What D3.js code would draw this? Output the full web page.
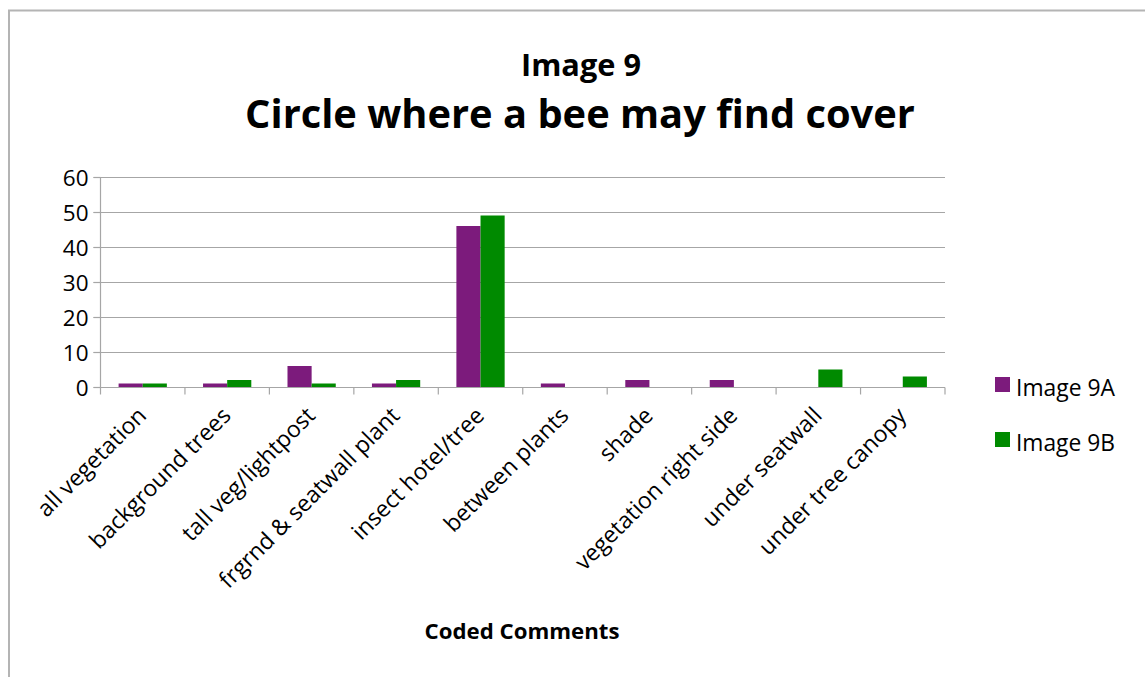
<!DOCTYPE html>
<html>
<head>
<meta charset="utf-8">
<script src="https://cdn.jsdelivr.net/npm/d3@7"></script>
<style>
  html, body { margin: 0; padding: 0; background: #fff; }
  svg { display: block; font-family: "Open Sans", "Liberation Sans", sans-serif; }
</style>
</head>
<body>
<svg id="chart" width="1145" height="677"></svg>
<script>
// Coded comments for Image 9: where a bee may find cover
const categories = [
  "all vegetation", "background trees", "tall veg/lightpost",
  "frgrnd & seatwall plant", "insect hotel/tree", "between plants",
  "shade", "vegetation right side", "under seatwall", "under tree canopy"
];
const seriesNames = ["Image 9A", "Image 9B"];
const image9A = [1, 1, 6, 1, 46, 1, 2, 2, 0, 0];
const image9B = [1, 2, 1, 2, 49, 0, 0, 0, 5, 3];
const yTicks = [0, 10, 20, 30, 40, 50, 60];
const colors = ["#7c1b7c", "#008a00"];

const svg = d3.select("#chart");

// Outer chart frame
svg.append("path")
  .attr("d", "M9,690 L9,10.5 L1160,10.5")
  .attr("fill", "none")
  .attr("stroke", "#b4b4b4")
  .attr("stroke-width", 2);

const plot = { left: 100.5, right: 945, top: 177, bottom: 387 };

const x = d3.scaleBand()
  .domain(categories)
  .range([plot.left, plot.right])
  .paddingInner(0)
  .paddingOuter(0);

const y = d3.scaleLinear().domain([0, 60]).range([plot.bottom, plot.top]);

// Horizontal gridlines
svg.append("g")
  .selectAll("line")
  .data(yTicks.filter(t => t > 0))
  .join("line")
  .attr("x1", plot.left - 7).attr("x2", plot.right)
  .attr("y1", d => Math.round(y(d)) + 0.5)
  .attr("y2", d => Math.round(y(d)) + 0.5)
  .attr("stroke", "#a6a6a6")
  .attr("stroke-width", 1.2);

// Bars
const bw = x.bandwidth() / 3.5;
const inner = d3.scaleBand().domain([0, 1]).range([0, 2 * bw]);
const rows = categories.map((c, i) => ({ c, vals: [image9A[i], image9B[i]] }));

svg.append("g")
  .selectAll("g")
  .data(rows)
  .join("g")
  .attr("transform", d => `translate(${x(d.c) + bw * 0.75},0)`)
  .selectAll("rect")
  .data(d => d.vals.map((v, k) => ({ v, k })))
  .join("rect")
  .attr("x", d => inner(d.k))
  .attr("width", inner.bandwidth())
  .attr("y", d => y(d.v))
  .attr("height", d => y(0) - y(d.v))
  .attr("fill", d => colors[d.k]);

// Y axis
const yAxis = d3.axisLeft(y).tickValues(yTicks).tickSize(7).tickPadding(5);
const gy = svg.append("g")
  .attr("transform", `translate(${plot.left},0)`)
  .call(yAxis);
gy.select(".domain").attr("stroke", "#a6a6a6").attr("stroke-width", 1.2)
  .attr("d", `M0,${plot.top}V${plot.bottom}`);
gy.selectAll(".tick line").attr("stroke", "#a6a6a6").attr("stroke-width", 1.2);
gy.selectAll(".tick text")
  .attr("font-family", "Open Sans, sans-serif")
  .attr("font-size", 22.5)
  .attr("dy", "0.36em")
  .attr("fill", "#000");

// X axis
const xAxis = d3.axisBottom(x).tickSize(0).tickFormat("");
const gx = svg.append("g")
  .attr("transform", `translate(0,${Math.round(y(0)) + 0.5})`)
  .call(xAxis);
gx.select(".domain").attr("stroke", "#a6a6a6").attr("stroke-width", 1.2)
  .attr("d", `M${plot.left - 7},0H${plot.right}`);
gx.selectAll(".tick").remove();

// Category boundary ticks
const bounds = categories.map(c => x(c)).concat([plot.right]);
gx.selectAll("line.sep")
  .data(bounds)
  .join("line")
  .attr("class", "sep")
  .attr("x1", d => d).attr("x2", d => d)
  .attr("y1", 0).attr("y2", 7)
  .attr("stroke", "#a6a6a6").attr("stroke-width", 1.2);

// Rotated category labels
svg.append("g")
  .selectAll("text")
  .data(categories)
  .join("text")
  .attr("transform", d => `translate(${x(d) + x.bandwidth() / 2 + 5},${plot.bottom + 30}) rotate(-45)`)
  .attr("text-anchor", "end")
  .attr("font-size", 23)
  .attr("fill", "#000")
  .text(d => d);

// Fit a text element to a given width by adjusting its font size
function fitText(sel, width) {
  const fs = parseFloat(sel.attr("font-size"));
  const w = sel.node().getComputedTextLength();
  sel.attr("font-size", fs * width / w);
  return sel;
}

// Titles
fitText(svg.append("text")
  .attr("x", 581).attr("y", 76)
  .attr("text-anchor", "middle")
  .attr("font-weight", "bold")
  .attr("font-size", 28)
  .text("Image 9"), 120);

fitText(svg.append("text")
  .attr("x", 580).attr("y", 128)
  .attr("text-anchor", "middle")
  .attr("font-weight", "bold")
  .attr("font-size", 40)
  .text("Circle where a bee may find cover"), 670);

// X axis title
fitText(svg.append("text")
  .attr("x", 522).attr("y", 639)
  .attr("text-anchor", "middle")
  .attr("font-weight", "bold")
  .attr("font-size", 19)
  .text("Coded Comments"), 195);

// Legend
const legend = svg.append("g");
seriesNames.forEach((name, i) => {
  const ly = 377 + i * 55;
  legend.append("rect")
    .attr("x", 995).attr("y", ly)
    .attr("width", 15).attr("height", 15)
    .attr("fill", colors[i]);
  fitText(legend.append("text")
    .attr("x", 1016).attr("y", ly + 19)
    .attr("font-size", 20)
    .attr("fill", "#000")
    .text(name), 99);
});
</script>
</body>
</html>
